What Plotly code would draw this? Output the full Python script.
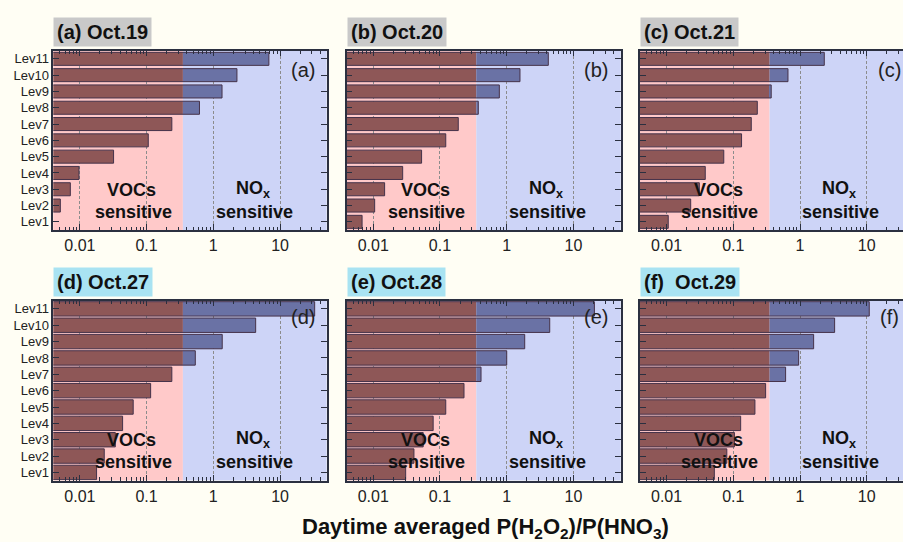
import math
import plotly.graph_objects as go

# ---------------- data ----------------
levels = ["Lev1", "Lev2", "Lev3", "Lev4", "Lev5", "Lev6", "Lev7", "Lev8", "Lev9", "Lev10", "Lev11"]
panel_titles = ["(a) Oct.19", "(b) Oct.20", "(c) Oct.21", "(d) Oct.27", "(e) Oct.28", "(f)  Oct.29"]
panel_tags = ["(a)", "(b)", "(c)", "(d)", "(e)", "(f)"]
ratio_a = [0.0035, 0.0051, 0.0072, 0.0097, 0.032, 0.106, 0.239, 0.62, 1.35, 2.26, 6.8]
ratio_b = [0.0068, 0.0105, 0.0148, 0.0276, 0.053, 0.122, 0.188, 0.375, 0.775, 1.58, 4.2]
ratio_c = [0.0106, 0.023, 0.031, 0.038, 0.072, 0.133, 0.186, 0.229, 0.37, 0.66, 2.31]
ratio_d = [0.0178, 0.0232, 0.034, 0.0437, 0.063, 0.115, 0.239, 0.537, 1.36, 4.31, 33.0]
ratio_e = [0.0306, 0.0407, 0.056, 0.079, 0.122, 0.229, 0.412, 1.0, 1.86, 4.41, 20.6]
ratio_f = [0.052, 0.080, 0.104, 0.129, 0.211, 0.305, 0.608, 0.953, 1.6, 3.3, 10.9]
series = [ratio_a, ratio_b, ratio_c, ratio_d, ratio_e, ratio_f]
threshold = 0.35
xtick_vals = [0.01, 0.1, 1, 10]
xtick_text = ["0.01", "0.1", "1", "10"]
minor_vals = [m * 10 ** e for e in range(-3, 2) for m in range(2, 10)]

# ---------------- styling ----------------
W, H = 903, 542
FONT = "Arial, Liberation Sans, Helvetica, sans-serif"
PAGE_BG = "#FFFEF4"
PINK = "#FFC9C9"
BLUE_BG = "#CDD4F7"
BAR_RED = "#8E5757"
BAR_BLUE = "#6A72A5"
OUTLINE = "#45324A"
AXIS = "#2B3040"
TITLE_BG = ["#C9C9C9"] * 3 + ["#A9E3F2"] * 3
ROW_BAR_WIDTH = [0.8, 0.88]

cols_px = [(53.3, 326.7), (346.7, 620.7), (640.0, 903.0)]
rows_px = [(50.7, 230.0), (300.7, 480.6)]
xmin_log = math.log10(0.004)
px_per_decade = (326.7 - 53.3) / (math.log10(50) - xmin_log)

fig = go.Figure()
annotations = []
shapes = []

for i, vals in enumerate(series):
    r, c = divmod(i, 3)
    n = i + 1
    xa = "x" if n == 1 else f"x{n}"
    ya = "y" if n == 1 else f"y{n}"
    x0p, x1p = cols_px[c]
    t0p, b0p = rows_px[r]
    xdom = [x0p / W, x1p / W]
    ydom = [1 - b0p / H, 1 - t0p / H]
    xmax_log = xmin_log + (x1p - x0p) / px_per_decade
    bw = ROW_BAR_WIDTH[r]

    red_len = [min(v, threshold) for v in vals]
    blue_len = [(v - threshold) if v > threshold else None for v in vals]

    fig.add_trace(go.Bar(y=levels, x=red_len, orientation="h", xaxis=xa, yaxis=ya, width=bw,
                         marker=dict(color=BAR_RED, line=dict(width=0)), showlegend=False,
                         hoverinfo="skip"))
    fig.add_trace(go.Bar(y=levels, x=blue_len, base=threshold, orientation="h", xaxis=xa, yaxis=ya,
                         width=bw, marker=dict(color=BAR_BLUE, line=dict(width=0)), showlegend=False,
                         hoverinfo="skip"))
    fig.add_trace(go.Bar(y=levels, x=vals, orientation="h", xaxis=xa, yaxis=ya, width=bw,
                         marker=dict(color="rgba(0,0,0,0)", line=dict(color=OUTLINE, width=1)),
                         showlegend=False, name=panel_titles[i]))

    axis_common = dict(showline=True, linecolor=AXIS, linewidth=1.5, ticks="inside",
                       tickcolor=AXIS)
    fig.layout[xa.replace("x", "xaxis")] = dict(
        domain=xdom, anchor=ya, type="log", range=[xmin_log, xmax_log],
        tickmode="array", tickvals=xtick_vals, ticktext=xtick_text,
        ticklen=6, tickwidth=1.2, mirror="ticks",
        showgrid=True, gridcolor="#8C8C8C", griddash="3px,2px", gridwidth=0.8,
        minor=dict(tickmode="array", tickvals=minor_vals, ticks="inside", ticklen=3.5,
                   tickwidth=1, tickcolor=AXIS, showgrid=False),
        zeroline=False, fixedrange=True,
        tickfont=dict(family=FONT, size=16, color="#222"),
        **axis_common,
    )
    fig.layout[ya.replace("y", "yaxis")] = dict(
        domain=ydom, anchor=xa, type="category", range=[-0.5, 10.5],
        categoryorder="array", categoryarray=levels,
        ticklen=6, tickwidth=1.2, mirror=("ticks" if c < 2 else False),
        showticklabels=(c == 0), showgrid=False, zeroline=False, fixedrange=True,
        tickfont=dict(family=FONT, size=13, color="#222"),
        **axis_common,
    )

    frac = (math.log10(threshold) - xmin_log) / (xmax_log - xmin_log)
    shapes.append(dict(type="rect", xref=f"{xa} domain", yref=f"{ya} domain",
                       x0=0, x1=frac, y0=0, y1=1, fillcolor=PINK, line=dict(width=0), layer="below"))
    shapes.append(dict(type="rect", xref=f"{xa} domain", yref=f"{ya} domain",
                       x0=frac, x1=1, y0=0, y1=1, fillcolor=BLUE_BG, line=dict(width=0), layer="below"))

    # panel title box
    annotations.append(dict(text=f"<b>{panel_titles[i]}</b>", xref="paper", yref="paper",
                            x=xdom[0], y=ydom[1] + 4 / H, xanchor="left", yanchor="bottom",
                            showarrow=False, bgcolor=TITLE_BG[i], borderpad=3,
                            font=dict(family=FONT, size=20, color="#111")))
    # corner tag
    tag_x = (x0p + 273.4 - 24) / W
    tag_dy = 19 if r == 0 else 16
    annotations.append(dict(text=panel_tags[i], xref="paper", yref="paper",
                            x=tag_x, y=ydom[1] - tag_dy / H, xanchor="center", yanchor="middle",
                            showarrow=False, font=dict(family=FONT, size=20, color="#222")))
    # regime labels
    for txt, xl, yl in [("<b>VOCs</b>", -1.22, 1.97), ("<b>sensitive</b>", -1.2, 0.62),
                        ("<b>NO<sub>x</sub></b>", 0.59, 2.0), ("<b>sensitive</b>", 0.61, 0.62)]:
        annotations.append(dict(text=txt, xref=xa, yref=ya, x=xl, y=yl, showarrow=False,
                                xanchor="center", yanchor="middle",
                                font=dict(family=FONT, size=18, color="#111")))

annotations.append(dict(text="<b>Daytime averaged P(H<sub>2</sub>O<sub>2</sub>)/P(HNO<sub>3</sub>)</b>",
                        xref="paper", yref="paper", x=485 / W, y=1 - 528 / H,
                        xanchor="center", yanchor="middle", showarrow=False,
                        font=dict(family=FONT, size=22, color="#111")))

fig.update_layout(
    width=W, height=H, margin=dict(l=0, r=0, t=0, b=0),
    paper_bgcolor=PAGE_BG, plot_bgcolor=PAGE_BG,
    barmode="overlay",
    annotations=annotations, shapes=shapes,
    font=dict(family=FONT), showlegend=False,
)

fig.write_html("out.html")
